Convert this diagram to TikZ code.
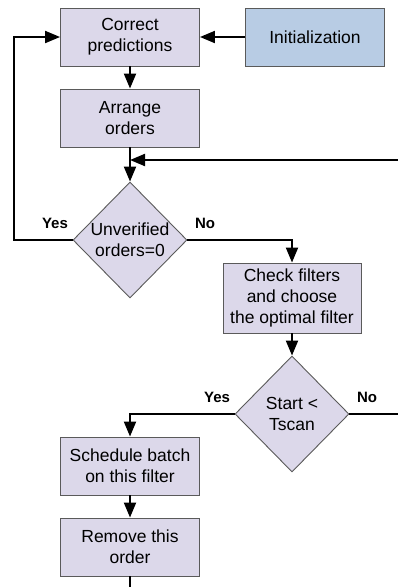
\documentclass[tikz,border=0pt]{standalone}
\usepackage{fontspec}
\setmainfont{Liberation Sans}
\usepackage{xcolor}
\definecolor{boxlilac}{RGB}{220,216,234}
\definecolor{boxblue}{RGB}{184,204,228}
\definecolor{boxedge}{RGB}{90,90,90}
\usetikzlibrary{arrows.meta, positioning, shapes.geometric, calc}

\begin{document}
\begin{tikzpicture}[
    x=1pt, y=-1pt,
    stepbox/.style ={rectangle, draw=boxedge, line width=0.9pt, fill=boxlilac,
                   minimum width=139pt, minimum height=58pt, inner sep=2pt,
                   font=\fontsize{17.5}{21}\selectfont, align=center},
    startbox/.style ={stepbox, fill=boxblue},
    decision/.style ={diamond, aspect=1, draw=boxedge, line width=0.9pt,
                   fill=boxlilac, inner sep=0pt,
                   minimum width=114pt, minimum height=116pt,
                   font=\fontsize{17.5}{21}\selectfont, align=center},
    arrow/.style ={line width=2pt, -{Triangle[length=15pt, width=12pt]}, color=black},
    link/.style ={line width=2pt, color=black},
    answer/.style={font=\fontsize{15}{18}\bfseries, color=black}
]
\useasboundingbox (0,0) rectangle (398,587);
%% --- main column ---
\node[stepbox]  (cp) at (130,37)   {Correct\\predictions};
\node[startbox] (in) at (315,37)   {Initialization};
\node[stepbox]  (ao) at (130,118)  {Arrange\\orders};
\node[decision] (d1) at (130,240)  {Unverified\\orders=0};
\node[stepbox, minimum width=138pt, minimum height=70pt]
                (cf) at (292,298)  {Check filters\\and choose\\the optimal filter};
\node[decision] (d2) at (292,414)  {Start <\\Tscan};
\node[stepbox]  (sb) at (130,466)  {Schedule batch\\on this filter};
\node[stepbox]  (ro) at (130,547)  {Remove this\\order};

%% --- free ends at the border ---
\coordinate (fb)  at (400,160);
\coordinate (yl)  at (14,240);
\coordinate (no2) at (400,414);
\coordinate (out) at (400,587.8);

%% --- straight flow ---
\draw[arrow] (in) -- (cp);
\draw[arrow] (cp) -- (ao);
\draw[arrow] (ao) -- (d1);
\draw[arrow] (cf) -- (d2);
\draw[arrow] (sb) -- (ro);

%% --- branches ---
\draw[arrow] (d1.west) -- (yl) |- (cp.west);
\draw[arrow] (d1.east) -| (cf.north);
\draw[arrow] (d2.west) -| (sb.north);
\draw[link]  (d2.east) -- (no2);
\draw[arrow] (fb) -- (fb -| ao.south);
\draw[link]  (ro.south) |- (out);

\node[answer] at (55,223)  {Yes};
\node[answer] at (205,223) {No};
\node[answer] at (217,397) {Yes};
\node[answer] at (367,397) {No};
\end{tikzpicture}
\end{document}
